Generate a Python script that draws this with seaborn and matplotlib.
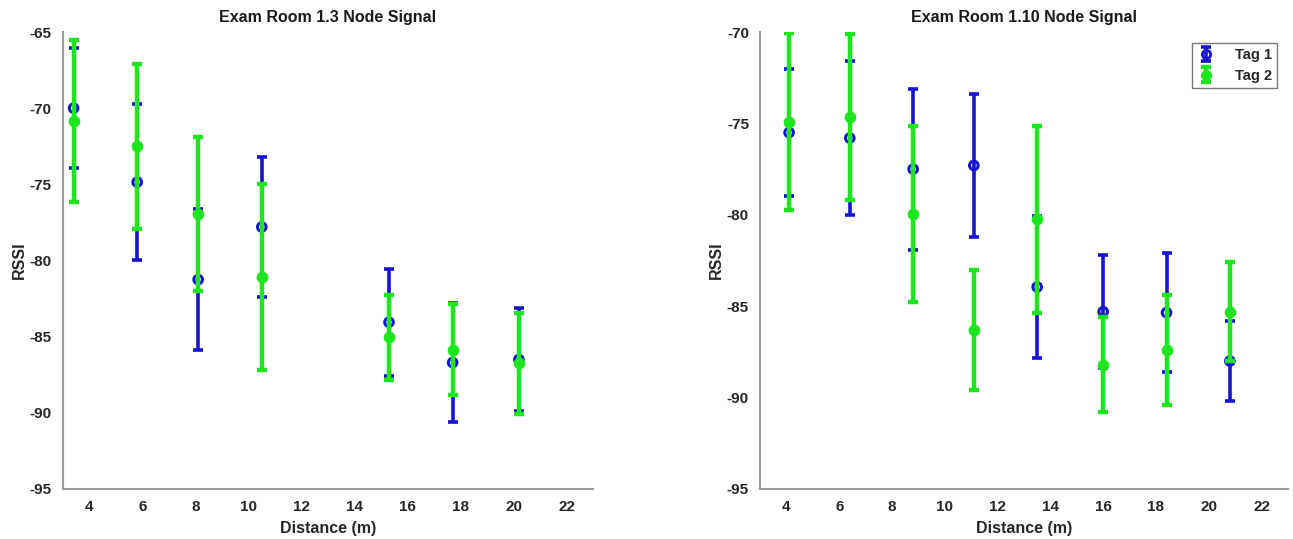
import numpy as np
import pandas as pd
import seaborn as sns
from matplotlib import pyplot as plt
from matplotlib.lines import Line2D

# Exam Room 1.3
dist_13 = [3.4, 5.8, 8.1, 10.5, 15.3, 17.7, 20.2]
tag1_13 = [-70.0, -74.85, -81.25, -77.8, -84.05, -86.7, -86.5]
tag1_13_err = [3.95, 5.1, 4.6, 4.6, 3.5, 3.9, 3.4]
tag2_13 = [-70.85, -72.5, -76.95, -81.1, -85.05, -85.85, -86.75]
tag2_13_err = [5.3, 5.4, 5.05, 6.1, 2.8, 3.0, 3.3]

# Exam Room 1.10
dist_110 = [4.1, 6.4, 8.8, 11.1, 13.5, 16.0, 18.4, 20.8]
tag1_110 = [-75.5, -75.8, -77.5, -77.3, -83.95, -85.3, -85.35, -88.0]
tag1_110_err = [3.45, 4.2, 4.4, 3.9, 3.9, 3.1, 3.25, 2.2]
tag2_110 = [-74.9, -74.65, -79.95, -86.3, -80.25, -88.2, -87.4, -85.3]
tag2_110_err = [4.85, 4.55, 4.8, 3.3, 5.1, 2.6, 3.0, 2.7]

xticks = [4, 6, 8, 10, 12, 14, 16, 18, 20, 22]

BLUE = "#1414d2"
GREEN = "#1ee61e"

sns.set_style("white")
plt.rcParams['font.family'] = ['Liberation Sans', 'DejaVu Sans']
plt.rcParams['font.weight'] = 'bold'
plt.rcParams['axes.unicode_minus'] = False


def make_df(dist, t1, e1, t2, e2):
    rows = []
    for d, m, e in zip(dist, t1, e1):
        rows.append({"dist": d, "rssi": m, "err": e, "tag": "Tag 1"})
    for d, m, e in zip(dist, t2, e2):
        rows.append({"dist": d, "rssi": m, "err": e, "tag": "Tag 2"})
    return pd.DataFrame(rows)


def draw(ax, df, title, yticks, legend=False):
    t1 = df[df.tag == "Tag 1"]
    t2 = df[df.tag == "Tag 2"]
    h1 = ax.errorbar(t1.dist, t1.rssi, yerr=t1.err, fmt='none', ecolor=BLUE,
                     elinewidth=2.6, capsize=3.5, capthick=2.6, zorder=2)
    sns.scatterplot(x=t1.dist, y=t1.rssi, ax=ax, marker='o', s=38,
                    facecolor='none', edgecolor=BLUE, linewidth=2.2, zorder=3)
    h2 = ax.errorbar(t2.dist, t2.rssi, yerr=t2.err, fmt='none', ecolor=GREEN,
                     elinewidth=3.2, capsize=3.5, capthick=3.2, zorder=4)
    sns.scatterplot(x=t2.dist, y=t2.rssi, ax=ax, marker='o', s=55,
                    color=GREEN, edgecolor=GREEN, linewidth=1, zorder=5)
    ax.set_xlim(3, 23)
    ax.set_ylim(yticks[0], yticks[-1])
    ax.set_xticks(xticks)
    ax.set_yticks(yticks)
    ax.tick_params(direction='in', length=4, color='#888888', labelsize=11,
                   labelcolor='#262626', pad=8)
    for lab in ax.get_xticklabels() + ax.get_yticklabels():
        lab.set_fontweight('bold')
    sns.despine(ax=ax)
    for sp in ("left", "bottom"):
        ax.spines[sp].set_color('#999999')
        ax.spines[sp].set_linewidth(1.5)
    ax.set_xlabel("Distance (m)", fontsize=11.5, fontweight='bold', color='#262626', labelpad=5)
    ax.set_ylabel("RSSI", fontsize=11.5, fontweight='bold', color='#262626', labelpad=2)
    ax.set_title(title, fontsize=11.5, fontweight='bold', color='#1a1a1a', pad=7)
    if legend:
        m1 = Line2D([], [], ls='none', marker='o', ms=6, mfc='none', mec=BLUE, mew=2)
        m2 = Line2D([], [], ls='none', marker='o', ms=7, mfc=GREEN, mec=GREEN)
        leg = ax.legend([(h1, m1), (h2, m2)], ["Tag 1", "Tag 2"], loc='upper right',
                        fontsize=10.5, frameon=True, fancybox=False,
                        edgecolor='#555555', borderaxespad=0.75,
                        handlelength=1.2, handletextpad=1.4,
                        labelspacing=0.45, borderpad=0.35)
        leg.get_frame().set_linewidth(1.0)
        for t in leg.get_texts():
            t.set_fontweight('bold')
    else:
        lg = ax.get_legend()
        if lg is not None:
            lg.remove()


fig = plt.figure(figsize=(12.93, 5.39), dpi=100)
ax1 = fig.add_axes([0.0487, 0.0928, 0.41, 0.8478])
ax2 = fig.add_axes([0.5878, 0.0928, 0.4083, 0.8478])

df13 = make_df(dist_13, tag1_13, tag1_13_err, tag2_13, tag2_13_err)
df110 = make_df(dist_110, tag1_110, tag1_110_err, tag2_110, tag2_110_err)

draw(ax1, df13, "Exam Room 1.3 Node Signal", [-95, -90, -85, -80, -75, -70, -65])
draw(ax2, df110, "Exam Room 1.10 Node Signal", [-95, -90, -85, -80, -75, -70], legend=True)

fig.savefig("out.png", dpi=100)
